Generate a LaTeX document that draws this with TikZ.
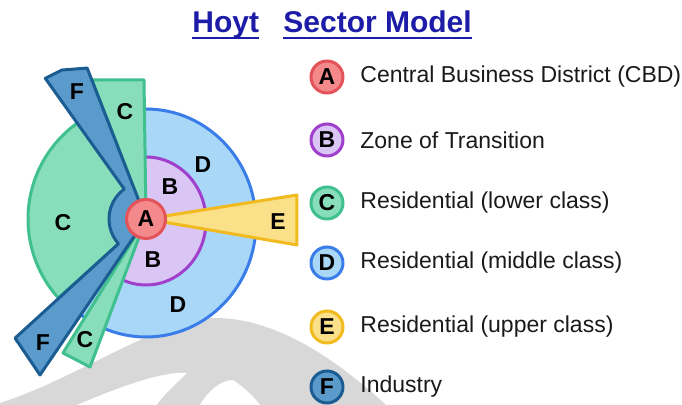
\documentclass[tikz,border=0pt]{standalone}
\usepackage{fontspec}
\setmainfont{Liberation Sans}

\definecolor{cbdfill}{HTML}{F4898C}
\definecolor{cbdline}{HTML}{E4525A}
\definecolor{trfill}{HTML}{D9C6F5}
\definecolor{trline}{HTML}{A03FCB}
\definecolor{lowfill}{HTML}{88DEBA}
\definecolor{lowline}{HTML}{40C08E}
\definecolor{midfill}{HTML}{A8D7F8}
\definecolor{midline}{HTML}{3A7DE8}
\definecolor{upfill}{HTML}{FBE08A}
\definecolor{upline}{HTML}{F1BA1E}
\definecolor{indfill}{HTML}{5B9BCB}
\definecolor{indline}{HTML}{1B5D92}
\definecolor{titleblue}{HTML}{1C1CA8}
\definecolor{ink}{HTML}{1A1A1A}
\definecolor{faintgray}{HTML}{D8D8D8}

\begin{document}
\begin{tikzpicture}[x=0.5pt, y=0.5pt, line join=round,
    zone/.style={line width=1.5pt},
    tag/.style={inner sep=0pt, font=\fontsize{11.5}{13}\selectfont\bfseries},
    key/.style={circle, line width=1.5pt, minimum size=16pt, inner sep=0pt,
      font=\fontsize{11.5}{13}\selectfont\bfseries},
    entry/.style={anchor=west, inner sep=0pt, text=ink,
      font=\fontsize{11.5}{13}\selectfont},
    heading/.style={anchor=base west, inner sep=0pt, text=titleblue,
      font=\fontsize{15}{18}\selectfont\bfseries}]
        \useasboundingbox[fill=white] (-146,-186) rectangle (536,219);

        % faint mark in the back
        \fill[faintgray] (-146,-184) .. controls (-70,-160) and (15,-99) .. (69,-99)
          .. controls (130,-99) and (190,-140) .. (240,-186) -- (-146,-186) -- cycle;
        \fill[white] (-69,-186) .. controls (-20,-165) and (20,-152) .. (41,-154)
          .. controls (30,-165) and (15,-178) .. (11,-186) -- cycle;
        \fill[white] (54,-186) .. controls (62,-172) and (75,-161) .. (87,-161)
          .. controls (100,-170) and (108,-178) .. (114,-186) -- cycle;

        % rings
        \draw[zone, draw=midline, fill=midfill] (0,-4) ellipse [x radius=110, y radius=114];
        \draw[zone, draw=trline, fill=trfill] (0,-2) ellipse [x radius=60, y radius=64];

        % lower class sectors
        \draw[zone, draw=lowline, fill=lowfill] (0,0) -- (125:118) arc [start angle=125, end angle=222, radius=118] -- cycle;
        \draw[zone, draw=lowline, fill=lowfill] (0,0) -- (-54,139) -- (-2,139) -- cycle;
        \draw[zone, draw=lowline, fill=lowfill] (0,0) -- (-83,-134) -- (-56,-148) -- cycle;

        % industry
        \draw[zone, draw=indline, fill=indfill] (125.6:173) -- (119.4:171) -- (111.3:162) -- (0,0)
          -- (235.8:188.6) -- (222.3:177) -- (222:37) arc [start angle=222, end angle=126, radius=37] -- cycle;

        % upper class
        \draw[zone, draw=upline, fill=upfill] (0,0) -- (151,24) -- (151,-26) -- cycle;

        \node[key, minimum size=19.5pt, fill=cbdfill, draw=cbdline] (A) at (0,0) {A};

        \node[tag] (B1) at (24,32) {B};
        \node[tag] (B2) at (7,-41) {B};
        \node[tag] (C1) at (-21,107) {C};
        \node[tag] (C2) at (-83,-4) {C};
        \node[tag] (C3) at (-61,-121) {C};
        \node[tag] (D1) at (57,54) {D};
        \node[tag] (D2) at (32,-86) {D};
        \node[tag] (E) at (132,-3) {E};
        \node[tag] (F1) at (-69,127) {F};
        \node[tag] (F2) at (-103,-124) {F};

        \node[heading] (hoyt) at (46,186) {Hoyt};
        \node[heading] (sector) at (137,186) {Sector Model};
        \foreach \t in {hoyt,sector}
          \draw[titleblue, line width=1pt] ([yshift=-2.6pt]\t.base west) -- ([yshift=-2.6pt]\t.base east);

        \foreach \k/\y/\fc/\dc/\txt in {A/142/cbdfill/cbdline/Central Business District (CBD),
            B/79/trfill/trline/Zone of Transition,
            C/16/lowfill/lowline/Residential (lower class),
            D/-44/midfill/midline/Residential (middle class),
            E/-108/upfill/upline/Residential (upper class),
            F/-168/indfill/indline/Industry}
        {
          \node[key, fill=\fc, draw=\dc] (K\k) at (181,\y) {\k};
          \node[entry] (T\k) at (214,\y) {\txt};
        }
      \end{tikzpicture}
\end{document}
